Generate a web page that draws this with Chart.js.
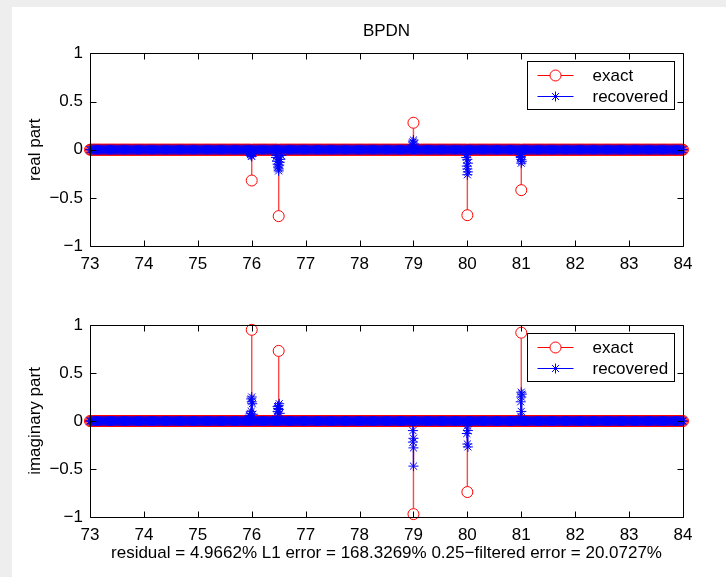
<!DOCTYPE html>
<html><head><meta charset="utf-8">
<script src="https://cdn.jsdelivr.net/npm/chart.js@4.4.1/dist/chart.umd.min.js"></script>
<style>
html,body{margin:0;padding:0;}
body{width:726px;height:577px;background:#eeeeee;position:relative;overflow:hidden;}
#fig{position:absolute;left:12px;top:7px;right:0;bottom:0;background:#ffffff;}
#c1{position:absolute;left:0;top:0;}
#c2{position:absolute;left:0;top:290px;}
</style></head><body>
<div id="fig"></div>
<canvas id="c1" width="726" height="290"></canvas>
<canvas id="c2" width="726" height="287"></canvas>
<script>
// ---- data ----
const xMin = 73, xMax = 84, gridStep = 0.02;          // sampling grid of the signal
const xTicks = [73,74,75,76,77,78,79,80,81,82,83,84];
const yTicks = [-1,-0.5,0,0.5,1];
const spikeX = [76, 76.5, 79, 80, 81];
const realExact = [-0.32, -0.69, 0.28, -0.68, -0.42];
const imagExact = [0.95, 0.73, -0.97, -0.74, 0.92];
const realRecX = [75.96,75.97,75.98,75.99,76.00,76.01, 76.45,76.46,76.47,76.48,76.49,76.50,76.50,76.51,76.52,76.53,76.55, 78.98,78.99,79.00,79.01, 79.98,79.99,79.99,80.00,80.00,80.00,80.01,80.01, 80.98,80.99,80.99,81.00,81.00,81.01];
const realRecY = [-0.02,-0.03,-0.05,-0.06,-0.07,-0.04, -0.08,-0.06,-0.12,-0.15,-0.18,-0.20,-0.22,-0.16,-0.13,-0.10,-0.06, 0.05,0.08,0.10,0.06, -0.08,-0.05,-0.17,-0.10,-0.20,-0.26,-0.14,-0.23, -0.05,-0.08,-0.07,-0.10,-0.14,-0.12];
const imagRecX = [75.96,75.97,75.98,75.99,75.99,76.00,76.00,76.01,76.02, 76.47,76.48,76.48,76.49,76.50,76.50,76.51,76.52, 78.99,78.99,79.00,79.00,79.00, 79.99,80.00,80.00,80.01,80.01, 80.99,80.99,81.00,81.00,81.00,81.01];
const imagRecY = [0.06,0.05,0.08,0.10,0.23,0.20,0.25,0.18,0.07, 0.05,0.10,0.15,0.13,0.16,0.12,0.18,0.08, -0.10,-0.22,-0.18,-0.28,-0.47, -0.13,-0.05,-0.24,-0.10,-0.27, 0.05,0.20,0.10,0.25,0.30,0.28];
const titleText = 'BPDN';
const realLabel = 'real part';
const imagLabel = 'imaginary part';
const captionText = 'residual = 4.9662% L1 error = 168.3269% 0.25\u2212filtered error = 20.0727%';
const seriesNames = ['exact', 'recovered'];

// ---- build datasets ----
const grid = [];
for (let i = 0; i <= Math.round((xMax - xMin) / gridStep); i++) grid.push(+(xMin + i * gridStep).toFixed(4));
function exactPoints(vals) {
  const pts = grid.filter(x => !spikeX.some(s => Math.abs(s - x) < 1e-6)).map(x => ({x, y: 0}));
  spikeX.forEach((x, i) => pts.push({x, y: vals[i]}));
  return pts;
}
function recPoints(xs, ys) {
  const pts = grid.map(x => ({x, y: 0}));
  xs.forEach((x, i) => pts.push({x, y: ys[i]}));
  return pts;
}
const FONT = {family: '"Liberation Sans", Arial, Helvetica, sans-serif', size: 17};
const RED = '#ff0000', BLUE = '#0000ff';
const STEM_COLORS = ['rgba(255,40,40,0.85)', 'rgba(0,0,255,0.85)'];
const MARKER_R = [5.5, 5];

const stemPlugin = {
  id: 'stems',
  beforeDatasetsDraw(chart) {
    const {ctx} = chart; const xs = chart.scales.x, ys = chart.scales.y;
    const y0 = ys.getPixelForValue(0);
    [0, 1].forEach(di => {
      const ds = chart.data.datasets[di];
      ctx.save(); ctx.strokeStyle = STEM_COLORS[di]; ctx.lineWidth = 1.4; ctx.beginPath();
      ds.data.forEach(p => {
        if (p.y !== 0) {
          const x = xs.getPixelForValue(p.x);
          const yp = ys.getPixelForValue(p.y);
          const end = di === 0 ? yp + Math.sign(y0 - yp) * MARKER_R[0] : yp;
          ctx.moveTo(x, y0); ctx.lineTo(x, end);
        }
      });
      ctx.stroke(); ctx.restore();
    });
  }
};

const boxPlugin = {
  id: 'box',
  afterDatasetsDraw(chart) {
    const {ctx, chartArea: a} = chart; const xs = chart.scales.x, ys = chart.scales.y;
    const L = Math.round(a.left) + 0.5, R = Math.round(a.right) + 0.5, T = Math.round(a.top) + 0.5, B = Math.round(a.bottom) + 0.5;
    ctx.save(); ctx.strokeStyle = '#000'; ctx.lineWidth = 1; ctx.beginPath();
    ctx.rect(L, T, R - L, B - T);
    const tl = 6;
    xs.ticks.forEach(t => { const x = Math.round(xs.getPixelForValue(t.value)) + 0.5; ctx.moveTo(x, B); ctx.lineTo(x, B - tl); ctx.moveTo(x, T); ctx.lineTo(x, T + tl); });
    ys.ticks.forEach(t => { const y = Math.round(ys.getPixelForValue(t.value)) + 0.5; ctx.moveTo(L, y); ctx.lineTo(L + tl, y); ctx.moveTo(R, y); ctx.lineTo(R - tl, y); });
    ctx.stroke(); ctx.restore();
  }
};

function drawStar(ctx, x, y, r) {
  ctx.beginPath();
  ctx.moveTo(x - r, y); ctx.lineTo(x + r, y);
  ctx.moveTo(x, y - r); ctx.lineTo(x, y + r);
  const d = r * Math.SQRT1_2;
  ctx.moveTo(x - d, y - d); ctx.lineTo(x + d, y + d);
  ctx.moveTo(x - d, y + d); ctx.lineTo(x + d, y - d);
  ctx.stroke();
}

const legendPlugin = {
  id: 'matlabLegend',
  afterDraw(chart) {
    const {ctx, chartArea: a} = chart;
    const w = 147, h = 48;
    const bx = Math.round(a.right - 9 - w) + 0.5, by = Math.round(a.top + 8) + 0.5;
    ctx.save();
    ctx.fillStyle = '#fff'; ctx.fillRect(bx, by, w, h);
    ctx.strokeStyle = '#000'; ctx.lineWidth = 1; ctx.strokeRect(bx, by, w, h);
    const rows = [by + 14, by + 35];
    rows.forEach((ry, i) => {
      const col = i === 0 ? RED : BLUE;
      ctx.strokeStyle = col; ctx.lineWidth = 1;
      ctx.beginPath(); ctx.moveTo(bx + 10, ry); ctx.lineTo(bx + 46, ry); ctx.stroke();
      if (i === 0) { ctx.beginPath(); ctx.arc(bx + 28, ry, 5.5, 0, Math.PI * 2); ctx.fillStyle = '#fff'; ctx.fill(); ctx.stroke(); }
      else drawStar(ctx, bx + 28, ry, 5);
      ctx.fillStyle = '#000'; ctx.font = FONT.size + 'px ' + FONT.family; ctx.textBaseline = 'middle'; ctx.textAlign = 'left';
      ctx.fillText(seriesNames[i], bx + 65, ry + 1);
    });
    ctx.restore();
  }
};

function makeChart(canvas, exactVals, recX, recY, opts) {
  return new Chart(canvas, {
    type: 'scatter',
    data: {
      datasets: [
        {label: seriesNames[0], data: exactPoints(exactVals), showLine: false, pointStyle: 'circle', pointRadius: MARKER_R[0],
          pointBorderColor: RED, pointBackgroundColor: 'rgba(255,255,255,0)', pointBorderWidth: 1, order: 2, clip: 10},
        {label: seriesNames[1], data: recPoints(recX, recY), showLine: false, pointStyle: 'star', pointRadius: MARKER_R[1],
          pointBorderColor: BLUE, pointBackgroundColor: BLUE, pointBorderWidth: 1, order: 1, clip: 10}
      ]
    },
    options: {
      responsive: false, animation: false, devicePixelRatio: 1, events: [],
      layout: {padding: opts.padding},
      plugins: {
        legend: {display: false}, tooltip: {enabled: false},
        title: opts.title ? {display: true, text: opts.title, fullSize: false, color: '#000', font: {...FONT, weight: 'normal'}, padding: {top: 14, bottom: 12}} : {display: false}
      },
      scales: {
        x: {type: 'linear', min: xMin, max: xMax,
          afterBuildTicks: s => { s.ticks = xTicks.map(v => ({value: v})); },
          ticks: {color: '#000', font: FONT, padding: 8, autoSkip: false, maxRotation: 0},
          grid: {display: false, drawTicks: false}, border: {display: false},
          title: opts.caption ? {display: true, text: opts.caption, color: '#000', font: FONT, padding: {top: 0, bottom: 13}} : {display: false},
          afterFit: s => { s.height = opts.xh; }},
        y: {type: 'linear', min: -1, max: 1,
          afterBuildTicks: s => { s.ticks = yTicks.map(v => ({value: v})); },
          ticks: {color: '#000', font: FONT, padding: 7, callback: v => v < 0 ? '\u2212' + Math.abs(v) : String(v)},
          grid: {display: false, drawTicks: false}, border: {display: false},
          title: {display: true, text: opts.ylabel, color: '#000', font: FONT, padding: {top: 13, bottom: 0}},
          afterFit: s => { s.width = 78; }}
      }
    },
    plugins: [stemPlugin, boxPlugin, legendPlugin]
  });
}

makeChart(document.getElementById('c1'), realExact, realRecX, realRecY,
  {padding: {left: 12, right: 43, top: 7, bottom: 0}, title: titleText, ylabel: realLabel, xh: 44});
makeChart(document.getElementById('c2'), imagExact, imagRecX, imagRecY,
  {padding: {left: 12, right: 43, top: 35, bottom: 0}, ylabel: imagLabel, caption: captionText, xh: 60});
</script></body></html>
